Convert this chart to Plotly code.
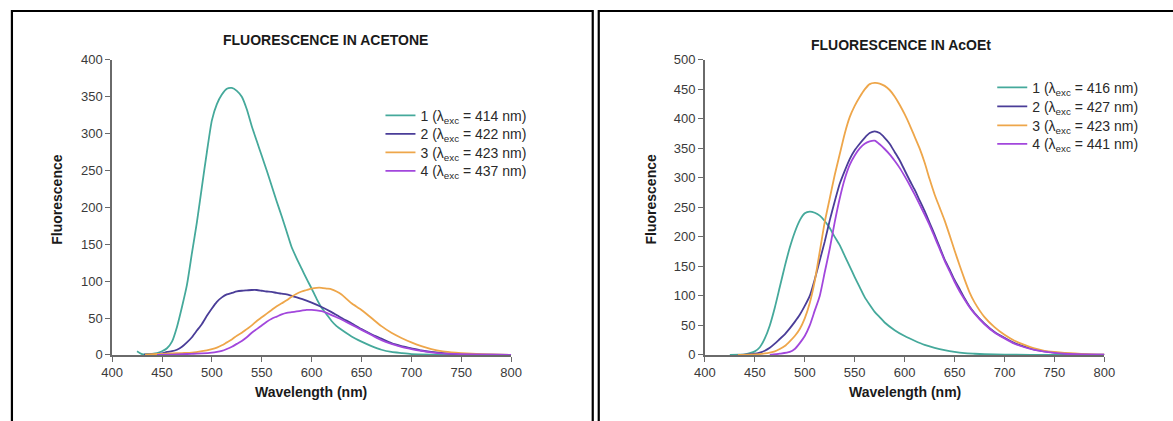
import plotly.graph_objects as go

W, H = 1173, 421
# observed capture transform: image = OFF + S * page   (per axis)
SX, OX = 0.980, 11.0
SY, OY = 0.966, 7.0

# ---------------- DATA: acetone ----------------
ace_wl_1 = [425, 430, 435, 440, 445, 450, 455, 460, 465, 470, 475, 480, 485, 490, 495, 500, 505, 510, 515, 520, 525, 530, 535, 540, 545, 550, 555, 560, 565, 570, 575, 580, 585, 590, 595, 600, 605, 610, 615, 620, 625, 630, 640, 650, 660, 670, 680, 690, 700, 720, 750, 800]
ace_f_1 = [5, 1, 1, 1.5, 2.5, 5, 9, 18, 38, 65, 95, 138, 180, 228, 275, 318, 340, 353, 361, 362, 358, 350, 333, 310, 290, 270, 250, 229, 208, 188, 167, 146, 131, 117, 103, 90, 76, 64, 55, 46, 39, 34, 25, 18, 12, 7, 4, 2.5, 1.2, 0.5, 0, 0]

ace_wl_2 = [432, 440, 450, 455, 460, 465, 470, 475, 480, 485, 490, 495, 500, 505, 510, 515, 520, 525, 530, 535, 540, 545, 550, 555, 560, 565, 570, 575, 580, 590, 600, 610, 620, 630, 640, 650, 660, 670, 680, 690, 700, 710, 720, 740, 760, 780, 800]
ace_f_2 = [0.5, 1, 2, 4, 5, 7, 11, 17, 24, 33, 42, 53, 63, 72, 78, 82, 84, 86, 87, 87.5, 88, 88, 87, 86, 85.5, 84, 83, 82, 80, 76, 71, 65, 58, 50, 43, 35, 28, 22, 16, 12, 9, 6, 4, 1.5, 0.7, 0.2, 0]

ace_wl_3 = [433, 440, 450, 460, 470, 480, 490, 500, 505, 510, 515, 520, 525, 530, 535, 540, 545, 550, 555, 560, 565, 570, 575, 580, 585, 590, 595, 600, 605, 610, 615, 620, 625, 630, 635, 640, 650, 660, 670, 680, 690, 700, 710, 720, 730, 740, 750, 770, 800]
ace_f_3 = [0.5, 1, 1.5, 2, 2.5, 3, 5, 8, 10, 13, 17, 21, 26, 30, 35, 40, 46, 51, 56, 61, 66, 70, 74, 79, 83, 86, 88, 90, 91, 91, 90, 89, 86, 82, 76, 70, 61, 50, 39, 30, 23, 17, 12, 8, 5, 3.5, 2.5, 1, 0]

ace_wl_4 = [445, 460, 470, 480, 490, 500, 505, 510, 515, 520, 525, 530, 535, 540, 545, 550, 555, 560, 565, 570, 575, 580, 585, 590, 595, 600, 605, 610, 615, 620, 625, 630, 640, 650, 660, 670, 680, 690, 700, 710, 720, 730, 750, 800]
ace_f_4 = [0, 0.5, 1, 1.5, 2, 3, 4, 5.5, 8, 11, 15, 19, 24, 30, 35, 40, 45, 49, 52, 55, 57, 58, 59, 60, 61, 61, 60.5, 59.5, 57, 54, 51, 48, 41, 34, 27, 20, 15, 11, 8, 5.5, 3.5, 2, 1, 0]

# ---------------- DATA: ethyl acetate ----------------
eth_wl_1 = [425, 435, 440, 445, 450, 455, 460, 465, 470, 475, 480, 485, 490, 495, 500, 505, 510, 515, 520, 525, 530, 535, 540, 545, 550, 555, 560, 565, 570, 575, 580, 590, 600, 610, 620, 630, 640, 650, 660, 670, 680, 700, 750, 800]
eth_f_1 = [0, 0.5, 1, 3, 6, 13, 28, 50, 80, 115, 150, 182, 208, 228, 240, 243, 241, 236, 227, 215, 200, 186, 168, 150, 132, 115, 98, 85, 73, 64, 55, 42, 32, 24, 17, 12, 8, 5, 3, 2, 1.2, 0.5, 0, 0]

eth_wl_2 = [433, 440, 450, 455, 460, 465, 470, 475, 480, 485, 490, 495, 500, 505, 510, 515, 520, 525, 530, 535, 540, 545, 550, 555, 560, 565, 570, 575, 580, 585, 590, 595, 600, 605, 610, 615, 620, 625, 630, 635, 640, 645, 650, 655, 660, 665, 670, 680, 690, 700, 710, 720, 730, 740, 750, 760, 780, 800]
eth_f_2 = [0, 0.5, 2, 4, 7, 12, 19, 27, 35, 45, 56, 68, 83, 100, 128, 160, 192, 228, 260, 290, 312, 332, 347, 358, 368, 376, 379, 376, 368, 358, 344, 330, 313, 296, 280, 262, 244, 224, 204, 183, 162, 145, 127, 112, 96, 82, 71, 53, 39, 29, 20, 14, 9, 6, 4, 2.5, 1, 0.3]

eth_wl_3 = [433, 445, 455, 460, 465, 470, 475, 480, 485, 490, 495, 500, 505, 510, 515, 520, 525, 530, 535, 540, 545, 550, 555, 560, 565, 570, 575, 580, 585, 590, 595, 600, 605, 610, 615, 620, 625, 630, 635, 640, 645, 650, 655, 660, 665, 670, 680, 690, 700, 710, 720, 730, 740, 750, 760, 780, 800]
eth_f_3 = [0, 0.5, 1.5, 2.5, 4, 6, 10, 15, 23, 32, 44, 62, 88, 125, 175, 225, 265, 305, 340, 375, 403, 422, 437, 450, 459, 461, 460, 456, 449, 438, 424, 408, 390, 370, 350, 326, 298, 272, 250, 228, 203, 177, 152, 128, 106, 89, 64, 47, 34, 24, 17, 11, 7, 5, 3.5, 1.5, 0.5]

eth_wl_4 = [465, 475, 485, 490, 495, 500, 505, 510, 515, 520, 525, 530, 535, 540, 545, 550, 555, 560, 565, 570, 575, 580, 585, 590, 595, 600, 605, 610, 615, 620, 625, 630, 635, 640, 645, 650, 655, 660, 665, 670, 680, 690, 700, 710, 720, 730, 740, 750, 760, 780, 800]
eth_f_4 = [0, 2, 5, 10, 20, 32, 50, 75, 100, 140, 180, 225, 265, 298, 322, 338, 350, 358, 362, 363, 357, 349, 340, 329, 317, 303, 288, 272, 255, 238, 220, 200, 180, 160, 142, 124, 108, 94, 81, 70, 52, 38, 28, 19, 13, 8.5, 5.5, 3.5, 2, 0.8, 0.3]

ace_labels = ["1 (λ<sub>exc</sub> = 414 nm)", "2 (λ<sub>exc</sub> = 422 nm)",
              "3 (λ<sub>exc</sub> = 423 nm)", "4 (λ<sub>exc</sub> = 437 nm)"]
eth_labels = ["1 (λ<sub>exc</sub> = 416 nm)", "2 (λ<sub>exc</sub> = 427 nm)",
              "3 (λ<sub>exc</sub> = 423 nm)", "4 (λ<sub>exc</sub> = 441 nm)"]

x_ticks = [400, 450, 500, 550, 600, 650, 700, 750, 800]
ace_y_ticks = [0, 50, 100, 150, 200, 250, 300, 350, 400]
eth_y_ticks = [0, 50, 100, 150, 200, 250, 300, 350, 400, 450, 500]

colors = ["#45a99b", "#4a3d98", "#eea64a", "#a247dc"]

FONT = "Arial, 'Liberation Sans', sans-serif"

def px(x):
    """target image x -> paper fraction"""
    return ((x - OX) / SX) / W

def py(y):
    """target image y -> paper fraction"""
    return 1 - ((y - OY) / SY) / H

fig = go.Figure()

ace = [(ace_wl_1, ace_f_1), (ace_wl_2, ace_f_2), (ace_wl_3, ace_f_3), (ace_wl_4, ace_f_4)]
eth = [(eth_wl_1, eth_f_1), (eth_wl_2, eth_f_2), (eth_wl_3, eth_f_3), (eth_wl_4, eth_f_4)]

ace_leg_y = [116, 134.5, 153, 171.5]
eth_leg_y = [88, 107, 126, 144.5]

LEG_FONT = dict(family=FONT, size=14, color="#2a2a2a")
layout_legends = {}
for i, (wl, f) in enumerate(ace):
    key = "legend" if i == 0 else f"legend{i + 1}"
    fig.add_trace(go.Scatter(x=wl, y=f, mode="lines", name=ace_labels[i],
                             line=dict(color=colors[i], width=1.8, shape="spline", smoothing=0.6),
                             xaxis="x", yaxis="y", legend=key))
    layout_legends[key] = dict(x=px(380), y=py(ace_leg_y[i]), xanchor="left", yanchor="middle",
                               bgcolor="rgba(0,0,0,0)", borderwidth=0, font=LEG_FONT, itemwidth=30)
for i, (wl, f) in enumerate(eth):
    key = f"legend{i + 5}"
    fig.add_trace(go.Scatter(x=wl, y=f, mode="lines", name=eth_labels[i],
                             line=dict(color=colors[i], width=1.8, shape="spline", smoothing=0.6),
                             xaxis="x2", yaxis="y2", legend=key))
    layout_legends[key] = dict(x=px(991), y=py(eth_leg_y[i]), xanchor="left", yanchor="middle",
                               bgcolor="rgba(0,0,0,0)", borderwidth=0, font=LEG_FONT, itemwidth=30)

axis_common = dict(showline=True, linecolor="#6a6a6a", linewidth=1.6, ticks="outside",
                   ticklen=5, tickwidth=1.4, tickcolor="#6a6a6a", showgrid=False, zeroline=False,
                   tickfont=dict(family=FONT, size=13, color="#3a3a3a"), fixedrange=True)

fig.update_layout(
    width=W, height=H, autosize=False,
    margin=dict(l=0, r=0, t=0, b=0),
    paper_bgcolor="white", plot_bgcolor="white",
    xaxis=dict(domain=[px(112), px(510.5)], range=[400, 800], tickvals=x_ticks, anchor="y", **axis_common),
    yaxis=dict(domain=[py(355.5), py(60)], range=[0, 400], tickvals=ace_y_ticks, anchor="x", **axis_common),
    xaxis2=dict(domain=[px(704), px(1103)], range=[400, 800], tickvals=x_ticks, anchor="y2", **axis_common),
    yaxis2=dict(domain=[py(355.5), py(60)], range=[0, 500], tickvals=eth_y_ticks, anchor="x2", **axis_common),
    showlegend=True,
    **layout_legends,
)

# panel borders
fig.add_shape(type="rect", xref="paper", yref="paper", x0=0.0008, x1=px(592), y0=-0.1, y1=py(11),
              line=dict(color="black", width=2.2), fillcolor="rgba(0,0,0,0)", layer="above")
fig.add_shape(type="rect", xref="paper", yref="paper", x0=px(598), x1=1.1, y0=-0.1, y1=py(11),
              line=dict(color="black", width=2.2), fillcolor="rgba(0,0,0,0)", layer="above")

def ann(text, x, y, size, angle=0):
    fig.add_annotation(text=text, xref="paper", yref="paper", x=px(x), y=py(y), showarrow=False,
                       xanchor="center", yanchor="middle", textangle=angle,
                       font=dict(family=FONT, size=size, color="#1a1a1a"))

ann("<b>FLUORESCENCE IN ACETONE</b>", 325, 40, 14)
ann("<b>FLUORESCENCE IN AcOEt</b>", 900, 45, 14)
ann("<b>Fluorescence</b>", 57, 200, 14, -90)
ann("<b>Fluorescence</b>", 650, 200, 14, -90)
ann("<b>Wavelength (nm)</b>", 311, 393, 14)
ann("<b>Wavelength (nm)</b>", 904, 393, 14)

fig.write_html("out.html", config={"responsive": False, "displayModeBar": False},
               post_script="document.body.style.margin='0px';document.body.style.overflow='hidden';")
